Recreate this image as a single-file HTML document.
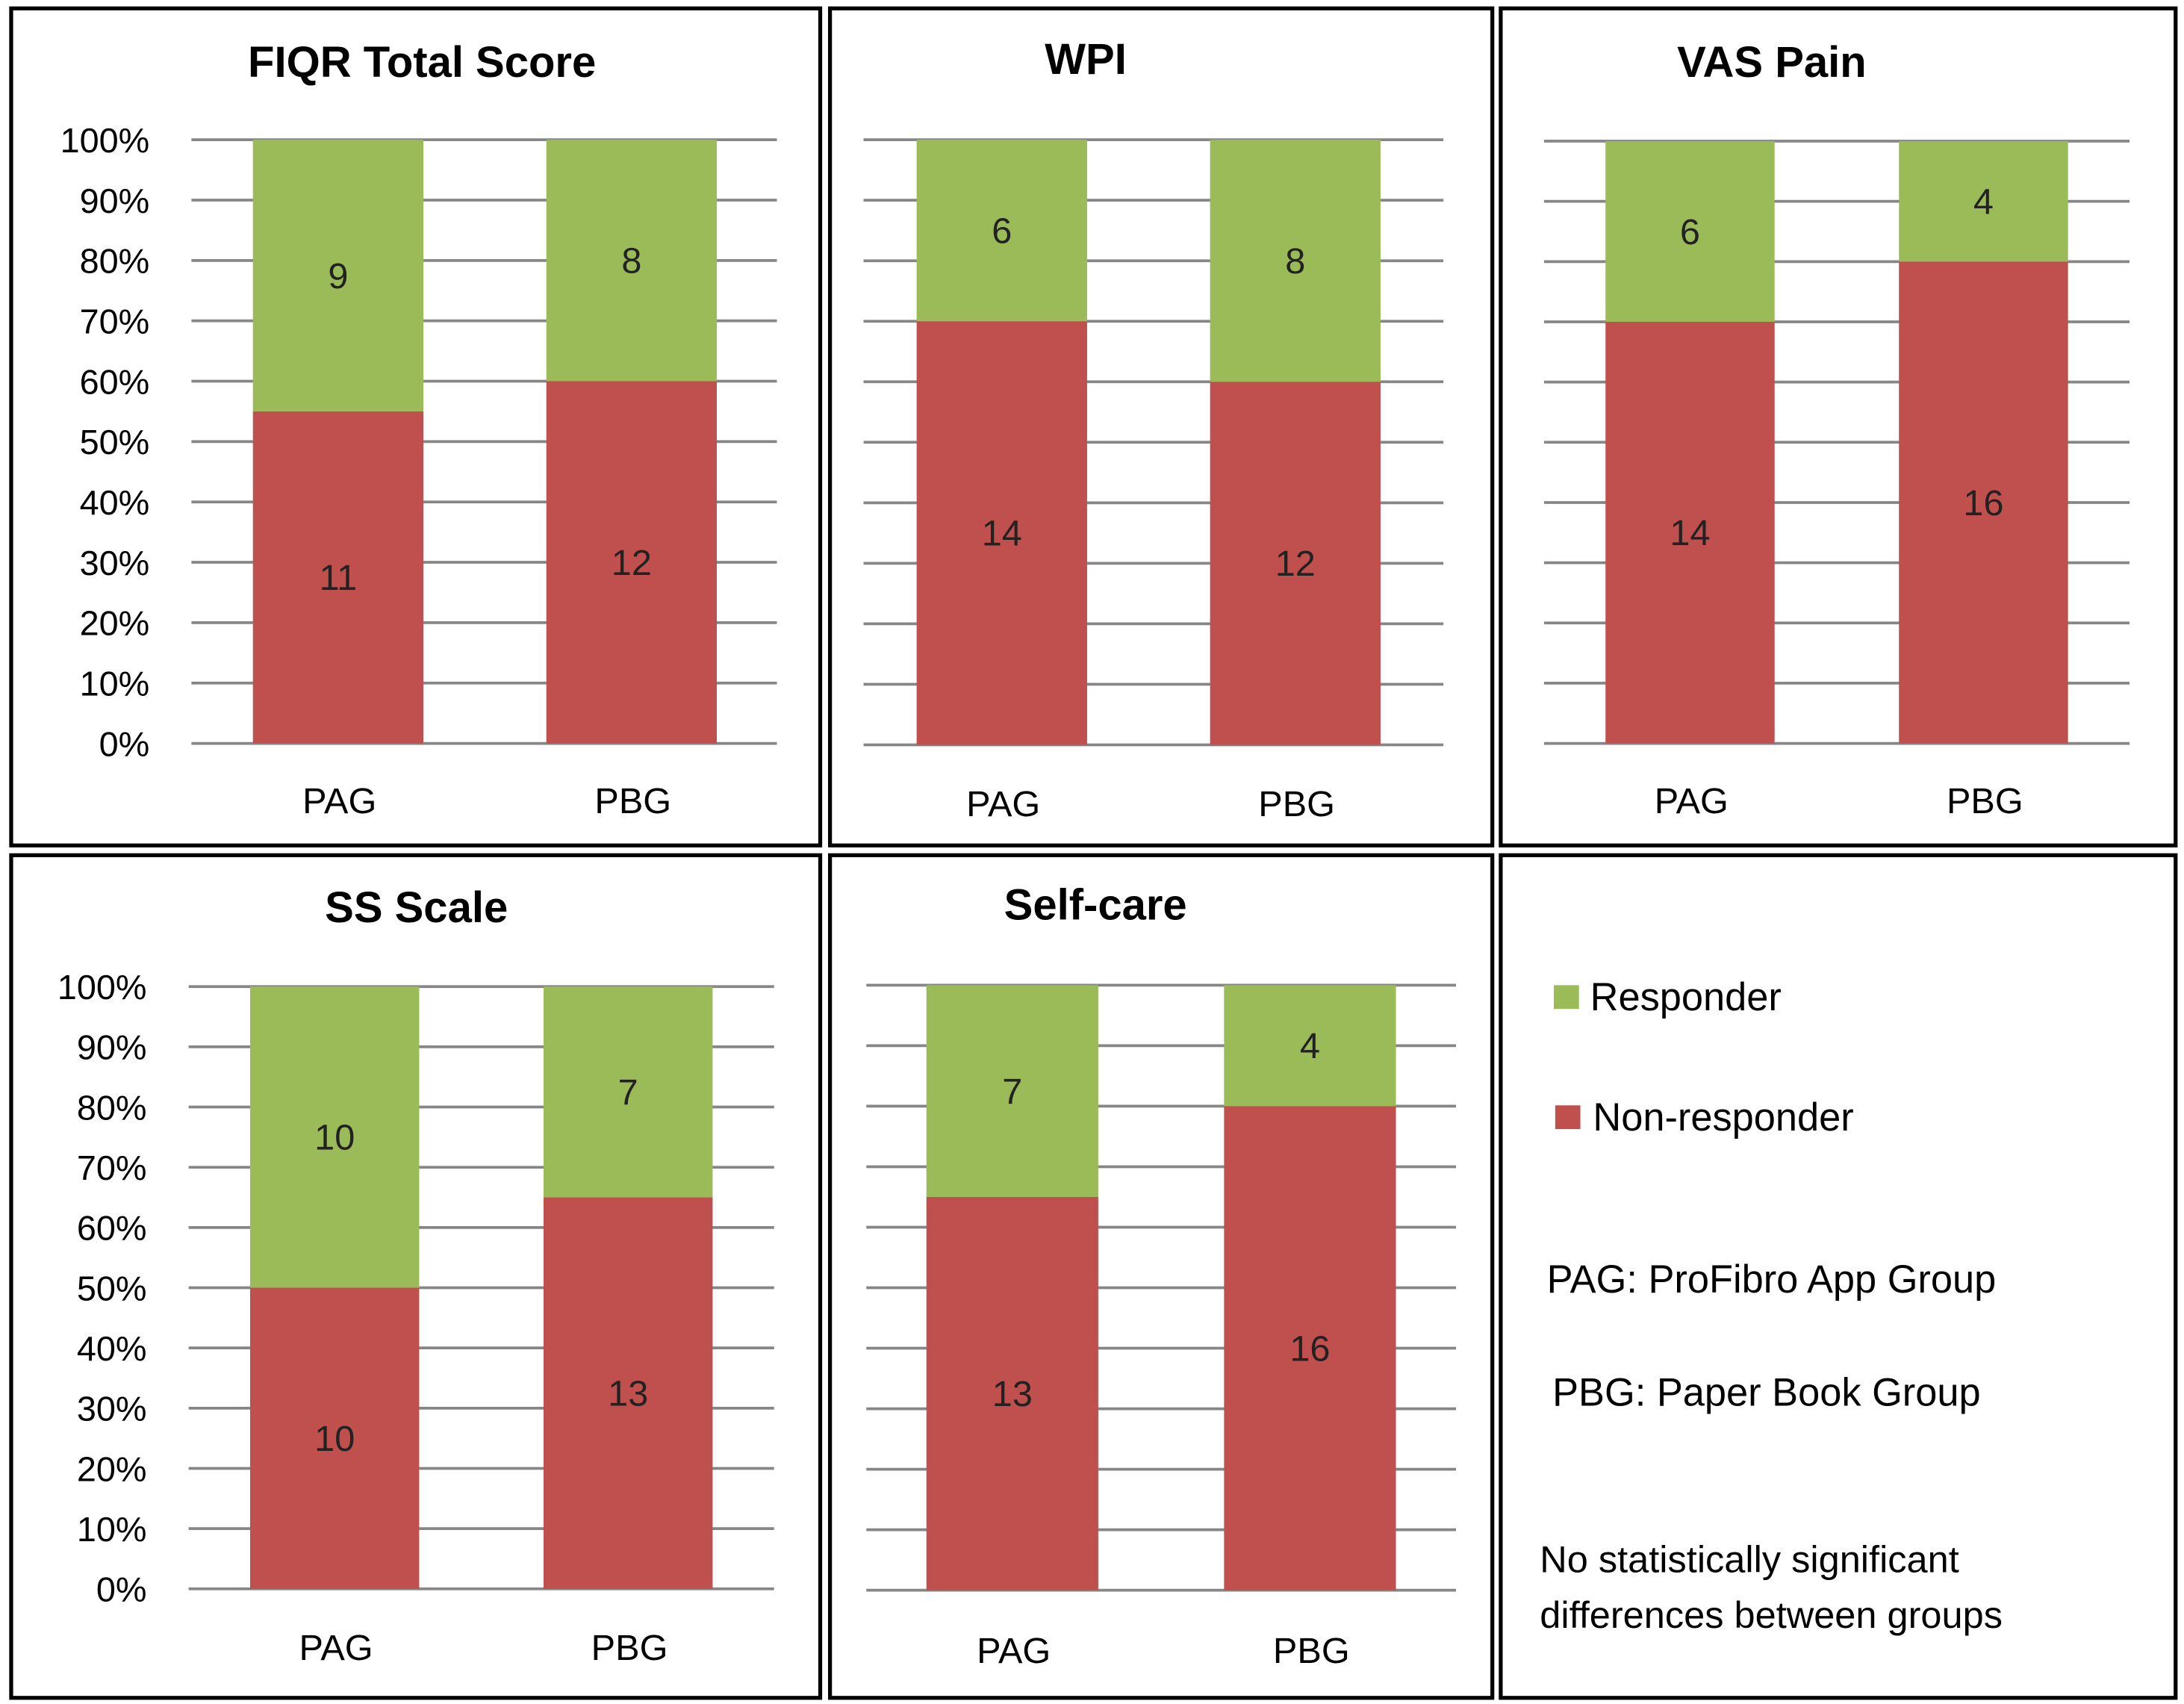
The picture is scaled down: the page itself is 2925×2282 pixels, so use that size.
<!DOCTYPE html>
<html><head><meta charset="utf-8"><style>
html,body{margin:0;padding:0;background:#fff;}
svg{display:block;}
text{font-family:"Liberation Sans",sans-serif;}
</style></head><body>
<svg id="fig" width="2925" height="2282" viewBox="0 0 1563 1219.4" preserveAspectRatio="none" xmlns="http://www.w3.org/2000/svg">
<g id="frames" fill="none" stroke="#000" stroke-width="2.8">
<rect x="8" y="6" width="579" height="599"/>
<rect x="594" y="6" width="474" height="599"/>
<rect x="1074" y="6" width="483" height="599"/>
<rect x="8" y="612" width="579" height="603"/>
<rect x="594" y="612" width="474" height="603"/>
<rect x="1074" y="612" width="483" height="603"/>
</g>
<g id="charts"></g>
<g font-size="28">
<rect x="1112" y="705" width="18" height="17" fill="#9BBB59"/>
<text x="1138" y="723">Responder</text>
<rect x="1113" y="791" width="18" height="17" fill="#C0504D"/>
<text x="1140" y="809">Non-responder</text>
<text x="1107" y="925">PAG: ProFibro App Group</text>
<text x="1111" y="1006">PBG: Paper Book Group</text>
<text x="1102" y="1125" font-size="27">No statistically significant</text>
<text x="1102" y="1165" font-size="27">differences between groups</text>
</g>
</svg>
<script>
const titles = ["FIQR Total Score","WPI","VAS Pain","SS Scale","Self-care"];
const categories = ["PAG","PBG"];
const nonResponders = [[11,12],[14,12],[14,16],[10,13],[13,16]];
const responders = [[9,8],[6,8],[6,4],[10,7],[7,4]];
const tickLabels = ["0%","10%","20%","30%","40%","50%","60%","70%","80%","90%","100%"];
const tickValues = [0,0.1,0.2,0.3,0.4,0.5,0.6,0.7,0.8,0.9,1];

const layouts = [
 {gx0:137,gx1:556,top:100,bot:532,bars:[181,391],bw:122,tx:302,ty:55,cy:582,lx:107},
 {gx0:618,gx1:1033,top:100,bot:533,bars:[656,866],bw:122,tx:777,ty:53,cy:584,lx:null},
 {gx0:1105,gx1:1524,top:101,bot:532,bars:[1149,1359],bw:121,tx:1268,ty:55,cy:582,lx:null},
 {gx0:135,gx1:554,top:706,bot:1137,bars:[179,389],bw:121,tx:298,ty:660,cy:1188,lx:105},
 {gx0:620,gx1:1042,top:705,bot:1138,bars:[663,876],bw:123,tx:784,ty:658,cy:1190,lx:null}
];
const NS="http://www.w3.org/2000/svg";
const root=document.getElementById('charts');
function mk(tag,attrs,parent){const e=document.createElementNS(NS,tag);for(const k in attrs)e.setAttribute(k,attrs[k]);parent.appendChild(e);return e;}
titles.forEach((t,i)=>{
  const L=layouts[i];
  const y=v=>L.bot-(L.bot-L.top)*v;
  const g=mk('g',{},root);
  
  
  const ti=mk('text',{x:L.tx,y:L.ty,'text-anchor':'middle','font-size':31,'font-weight':'bold'},g);
  ti.textContent=t;
  
  
  tickValues.forEach((v,k)=>{
    const ln=mk('line',{x1:L.gx0,x2:L.gx1,y1:y(v),y2:y(v),stroke:'#868686','stroke-width':2},g);
    
    
    if(L.lx!==null){
      const tl=mk('text',{x:L.lx,y:y(v)+9,'text-anchor':'end','font-size':25},g);
      tl.textContent=tickLabels[k];
      
      
    }
  });
  categories.forEach((c,j)=>{
    const n=nonResponders[i][j], r=responders[i][j], tot=n+r;
    const pn=n/tot;
    const x=L.bars[j];
    const rb=mk('rect',{x:x,y:y(pn),width:L.bw,height:y(0)-y(pn),fill:'#C0504D'},g);
    
    
    const gb=mk('rect',{x:x,y:y(1),width:L.bw,height:y(pn)-y(1),fill:'#9BBB59'},g);
    
    
    const t1=mk('text',{x:x+L.bw/2,y:(y(0)+y(pn))/2+9,'text-anchor':'middle','font-size':26,fill:'#222'},g);
    t1.textContent=n;
    
    
    const t2=mk('text',{x:x+L.bw/2,y:(y(pn)+y(1))/2+9,'text-anchor':'middle','font-size':26,fill:'#222'},g);
    t2.textContent=r;
    
    
    const cl=mk('text',{x:x+L.bw/2+1,y:L.cy,'text-anchor':'middle','font-size':26},g);
    cl.textContent=c;
    
    
  });
});
</script>
</body></html>
